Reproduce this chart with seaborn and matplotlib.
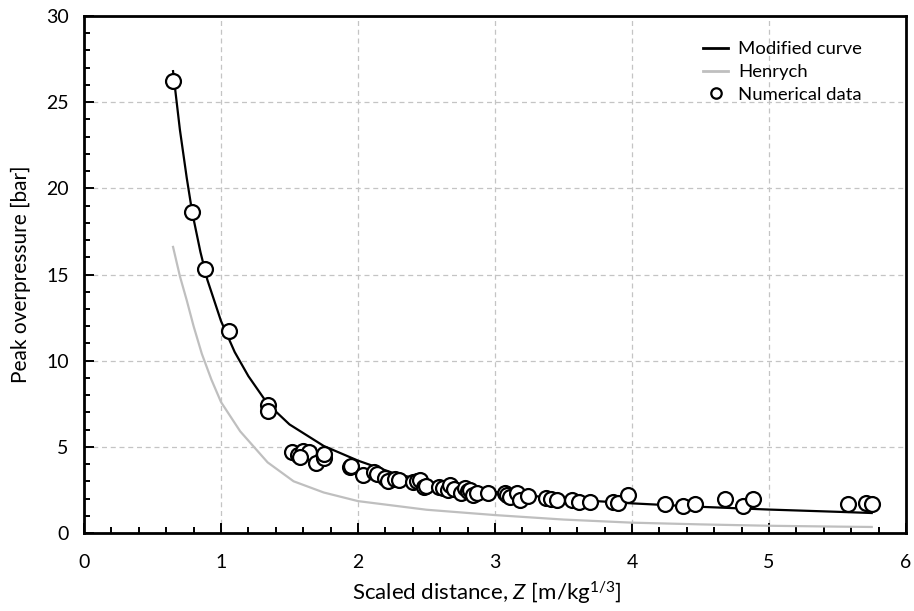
import numpy as np
import pandas as pd
import matplotlib
matplotlib.use("Agg")
import matplotlib.pyplot as plt
from matplotlib.ticker import MultipleLocator
from matplotlib.lines import Line2D
import seaborn as sns

# Modified curve
mod_z = [0.65, 0.70, 0.75, 0.79, 0.85, 0.90, 1.00, 1.10, 1.20, 1.34, 1.50, 1.75,
         2.00, 2.25, 2.50, 2.75, 3.00, 3.50, 4.00, 4.50, 5.00, 5.50, 5.75]
mod_p = [26.8, 23.4, 20.6, 18.6, 16.3, 14.7, 12.3, 10.5, 9.1, 7.5, 6.3, 5.05,
         4.2, 3.5, 3.0, 2.65, 2.38, 1.97, 1.72, 1.52, 1.36, 1.23, 1.16]

# Henrych curve
hen_z = [0.65, 0.70, 0.75, 0.80, 0.86, 0.93, 1.00, 1.14, 1.34, 1.53, 1.75, 2.00,
         2.50, 3.00, 3.50, 4.00, 4.50, 5.00, 5.50, 5.75]
hen_p = [16.6, 14.9, 13.5, 12.0, 10.4, 8.9, 7.6, 5.9, 4.1, 3.0, 2.35, 1.85,
         1.35, 1.04, 0.78, 0.60, 0.50, 0.42, 0.37, 0.35]

# Numerical data
num_z = [0.65, 0.79, 0.88, 1.06, 1.34, 1.34,
         1.52, 1.56, 1.60, 1.64, 1.69, 1.75, 1.58, 1.75,
         1.94, 1.95, 2.04, 2.12, 2.14, 2.20, 2.22, 2.27, 2.30,
         2.40, 2.43, 2.45, 2.48, 2.50, 2.59, 2.62, 2.66, 2.67, 2.70,
         2.75, 2.78, 2.80, 2.82, 2.84, 2.87, 2.95,
         3.07, 3.09, 3.11, 3.16, 3.18, 3.24, 3.37, 3.41, 3.45,
         3.56, 3.61, 3.69, 3.86, 3.90, 3.97,
         4.24, 4.37, 4.46, 4.68, 4.81, 4.885, 5.58, 5.71, 5.75]
num_p = [26.2, 18.6, 15.3, 11.7, 7.4, 7.1,
         4.72, 4.53, 4.78, 4.72, 4.05, 4.34, 4.4, 4.6,
         3.85, 3.9, 3.37, 3.56, 3.45, 3.18, 3.0, 3.11, 3.05,
         2.97, 3.0, 3.07, 2.69, 2.75, 2.69, 2.6, 2.50, 2.79, 2.55,
         2.31, 2.60, 2.45, 2.50, 2.21, 2.31, 2.31,
         2.31, 2.2, 2.11, 2.31, 1.92, 2.13, 2.05, 2.0, 1.92,
         1.92, 1.82, 1.82, 1.82, 1.76, 2.2,
         1.67, 1.57, 1.67, 1.96, 1.57, 1.96, 1.67, 1.76, 1.67]

plt.rcParams['font.family'] = ['Lato', 'DejaVu Sans']
plt.rcParams['mathtext.fontset'] = 'custom'
plt.rcParams['mathtext.it'] = 'Lato:italic'
plt.rcParams['mathtext.rm'] = 'Lato'

fig = plt.figure(figsize=(9.14, 6.11), dpi=100)
ax = fig.add_axes([84/914, 1-533/611, (906-84)/914, (533-16)/611])

sns.lineplot(x=mod_z, y=mod_p, ax=ax, color='black', lw=1.6, zorder=3,
             label='Modified curve')
sns.lineplot(x=hen_z, y=hen_p, ax=ax, color='#bfbfbf', lw=1.6, zorder=2,
             label='Henrych')
sns.scatterplot(x=num_z, y=num_p, ax=ax, s=115, facecolor='white',
                edgecolor='black', linewidth=1.6, zorder=4, label='Numerical data')

ax.set_xlim(0, 6)
ax.set_ylim(0, 30)
ax.xaxis.set_major_locator(MultipleLocator(1))
ax.xaxis.set_minor_locator(MultipleLocator(0.2))
ax.yaxis.set_major_locator(MultipleLocator(5))
ax.yaxis.set_minor_locator(MultipleLocator(1))
ax.tick_params(which='both', direction='in', width=1.4, colors='black',
               labelsize=14, top=False, right=False)
ax.tick_params(which='major', length=7)
ax.tick_params(axis='x', which='major', pad=15)
ax.tick_params(axis='y', which='major', pad=11)
ax.tick_params(which='minor', length=4)
for s in ax.spines.values():
    s.set_visible(True)
    s.set_linewidth(2)
    s.set_color('black')
ax.grid(True, which='major', color='#c4c4c4', linestyle=(0, (4, 3)), lw=0.9)
ax.set_axisbelow(True)

ax.set_xlabel(r'Scaled distance, $\it{Z}$ [m/kg$^{1/3}$]', fontsize=16)
ax.set_ylabel('Peak overpressure [bar]', fontsize=15)
ax.xaxis.set_label_coords(0.49, -0.089)
ax.yaxis.set_label_coords(-0.064, 0.5)

handles = [Line2D([], [], color='black', lw=2),
           Line2D([], [], color='#bfbfbf', lw=2),
           Line2D([], [], marker='o', ls='none', markerfacecolor='white',
                  markeredgecolor='black', markersize=7.5, markeredgewidth=1.6)]
ax.legend(handles, ['Modified curve', 'Henrych', 'Numerical data'],
          loc='upper right', bbox_to_anchor=(0.967, 0.983), frameon=False,
          fontsize=13.3, handlelength=1.35, handletextpad=0.55, labelspacing=0.36)

fig.savefig('out.png', dpi=100)
